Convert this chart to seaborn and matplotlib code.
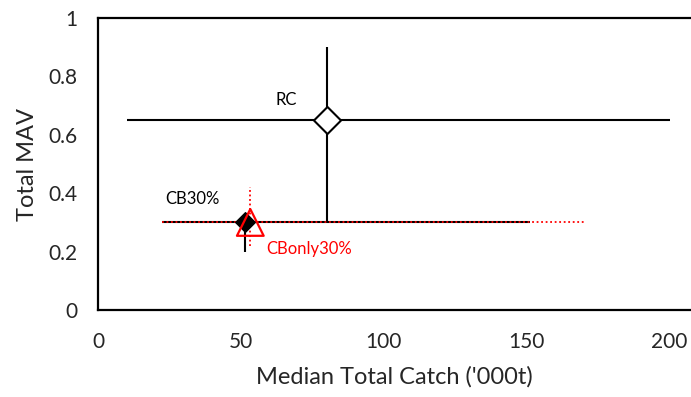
import matplotlib
matplotlib.use("Agg")
import matplotlib.pyplot as plt
import seaborn as sns
import pandas as pd

# ---- data ----
labels = ["RC", "CB30%", "CBonly30%"]
catch_med = [80, 51.5, 53.3]
mav_med = [0.65, 0.30, 0.30]
catch_lo = [10, 22.4, 22.4]
catch_hi = [200, 151, 170]
mav_lo = [0.30, 0.20, 0.22]
mav_hi = [0.90, 0.30, 0.42]
label_x = [66, 33, 59]
label_y = [0.72, 0.38, 0.21]

x_ticks = [0, 50, 100, 150, 200]
y_ticks = [0, 0.2, 0.4, 0.6, 0.8, 1.0]
y_ticklabels = ["0", "0.2", "0.4", "0.6", "0.8", "1"]

sns.set_theme(style="white")
plt.rcParams["font.family"] = ["Lato", "DejaVu Sans"]

fig = plt.figure(figsize=(6.91, 3.97), dpi=100)
ax = fig.add_axes([0.1418, 0.219, 0.8582, 0.7357])

df = pd.DataFrame({"label": labels, "catch": catch_med, "mav": mav_med})

# ranges
# RC
ax.hlines(mav_med[0], catch_lo[0], catch_hi[0], color="black", lw=1.5, zorder=2)
ax.vlines(catch_med[0], mav_lo[0], mav_hi[0], color="black", lw=1.5, zorder=2)
# CB30%
ax.hlines(mav_med[1], catch_lo[1], catch_hi[1], color="black", lw=1.5, zorder=2)
ax.vlines(catch_med[1], mav_lo[1], mav_hi[1], color="black", lw=1.5, zorder=2)
# CBonly30%
ax.hlines(mav_med[2], catch_lo[2], catch_hi[2], color="red", lw=1.3,
          linestyles=(0, (1, 1.5)), zorder=3)
ax.vlines(catch_med[2], mav_lo[2], mav_hi[2], color="red", lw=1.3,
          linestyles=(0, (1, 1.5)), zorder=3)

# markers
sns.scatterplot(data=df.iloc[[0]], x="catch", y="mav", marker="D", s=190,
                facecolor="white", edgecolor="black", linewidth=1.5, ax=ax, zorder=4)
sns.scatterplot(data=df.iloc[[1]], x="catch", y="mav", marker="D", s=100,
                color="black", edgecolor="black", linewidth=1, ax=ax, zorder=4)
sns.scatterplot(data=df.iloc[[2]], x="catch", y="mav", marker="^", s=370,
                facecolor="none", edgecolor="red", linewidth=1.6, ax=ax, zorder=5)

# labels
ax.text(label_x[0], label_y[0], labels[0], ha="center", va="center", fontsize=12, color="black")
ax.text(label_x[1], label_y[1], labels[1], ha="center", va="center", fontsize=12, color="black")
ax.text(label_x[2], label_y[2], labels[2], ha="left", va="center", fontsize=12, color="red")

ax.set_xlim(0, 207.5)
ax.set_ylim(0, 1)
ax.set_xticks(x_ticks)
ax.set_xticklabels([str(t) for t in x_ticks], fontsize=15)
ax.set_yticks(y_ticks)
ax.set_yticklabels(y_ticklabels, fontsize=15)
ax.tick_params(axis="x", length=0, pad=16)
ax.tick_params(axis="y", length=0, pad=15)
ax.set_xlabel("Median Total Catch ('000t)", fontsize=17, labelpad=10)
ax.set_ylabel("Total MAV", fontsize=17, labelpad=7)

for side in ["left", "top", "bottom"]:
    ax.spines[side].set_color("black")
    ax.spines[side].set_linewidth(1.6)
ax.spines["right"].set_visible(False)
ax.grid(False)
if ax.get_legend():
    ax.get_legend().remove()

fig.savefig("out.png", dpi=100)
